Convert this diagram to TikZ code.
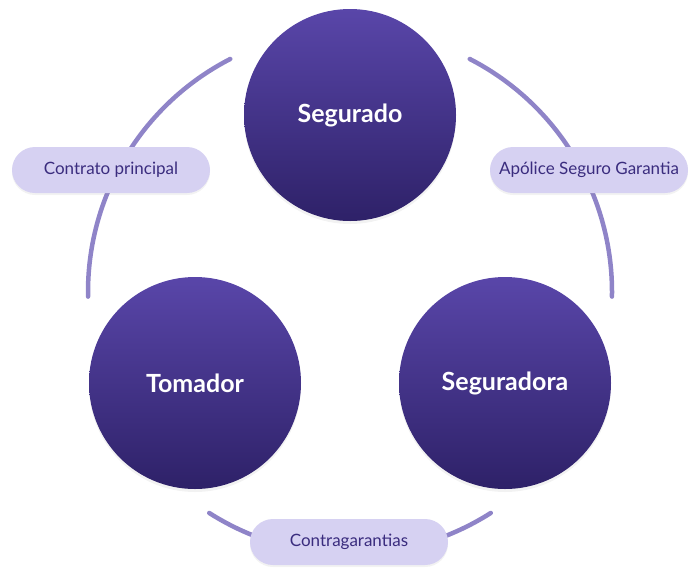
\documentclass[tikz,border=0pt]{standalone}
\usepackage{fontspec}
\setmainfont{Lato}
\usetikzlibrary{calc,shadows}

\definecolor{ringline}{HTML}{8F84C8}
\definecolor{roletop}{HTML}{5946A9}
\definecolor{rolebot}{HTML}{2E2168}
\definecolor{pillfill}{HTML}{D6D1F2}
\definecolor{pilltext}{HTML}{3A2C7E}

\begin{document}
\begin{tikzpicture}[x=1pt,y=-1pt]
\tikzset{
  rolenode/.style={circle,minimum size=212pt,inner sep=0pt,top color=roletop,bottom color=rolebot,
    text=white,font=\fontsize{25}{28}\selectfont\bfseries,
    drop shadow={opacity=0.10,shadow xshift=0pt,shadow yshift=-3pt}},
  pillnode/.style={rectangle,rounded corners=23pt,minimum width=198pt,minimum height=46pt,inner sep=0pt,
    fill=pillfill,text=pilltext,font=\fontsize{17}{20}\selectfont,
    drop shadow={opacity=0.10,shadow xshift=0pt,shadow yshift=-2pt}},
  ringarc/.style={draw=ringline,line width=4.5pt,line cap=round}
}
\useasboundingbox (0,0) rectangle (700,584);
% ring pieces (y axis points down, so angles run clockwise)
\coordinate (c_ring) at (350,292);
\coordinate (a_left) at ($(c_ring)+(-117.2:262)$);
\coordinate (a_right) at ($(c_ring)+(-62.8:262)$);
\coordinate (a_bottom) at ($(c_ring)+(-237.5:262)$);
\draw[ringarc] (a_left) arc[start angle=-117.2,end angle=-181,radius=262];
\draw[ringarc] (a_right) arc[start angle=-62.8,end angle=1,radius=262];
\draw[ringarc] (a_bottom) arc[start angle=-237.5,end angle=-302.5,radius=262];
% roles
\node[rolenode] (n_segurado) at (350,115) {Segurado};
\node[rolenode] (n_tomador) at (195,383) {Tomador};
\node[rolenode] (n_seguradora) at (505,383) {Seguradora};
% relations
\node[pillnode] (p_contrato) at (111,170) {Contrato principal};
\node[pillnode] (p_apolice) at (589,170) {Apólice Seguro Garantia};
\node[pillnode] (p_contra) at (349,542) {Contragarantias};
\end{tikzpicture}
\end{document}
